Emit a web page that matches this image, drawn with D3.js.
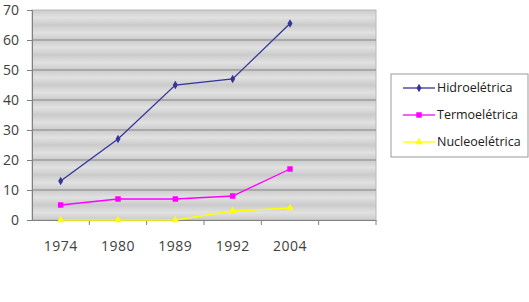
<!DOCTYPE html>
<html>
<head>
<meta charset="utf-8">
<script src="https://cdn.jsdelivr.net/npm/d3@7"></script>
<style>
  body { margin: 0; background: #fff; }
  text { font-family: "Open Sans", sans-serif; }
</style>
</head>
<body>
<div id="container"></div>
<script>
/* DATA */
const years = ["1974", "1980", "1989", "1992", "2004"];
const hidro = [13, 27, 45, 47, 65.5];
const termo = [5, 7, 7, 8, 17];
const nucleo = [0, 0, 0, 3, 4];
const yTicks = [0, 10, 20, 30, 40, 50, 60, 70];
const seriesNames = ["Hidroelétrica", "Termoelétrica", "Nucleoelétrica"];

const width = 529, height = 302;
const margin = { top: 10, left: 32, right: 153, bottom: 82 };

const svg = d3.select("#container").append("svg")
  .attr("width", width)
  .attr("height", height);

// x uses 6 slots, last one empty (like the original)
const xScale = d3.scaleBand()
  .domain(years.concat([""]))
  .range([margin.left, width - margin.right]);

const yScale = d3.scaleLinear()
  .domain([0, 70])
  .range([height - margin.bottom, margin.top]);

/* stripe background */
const defs = svg.append("defs");
const grad = defs.append("linearGradient")
  .attr("id", "stripe").attr("x1", 0).attr("y1", 0).attr("x2", 0).attr("y2", 1);
grad.append("stop").attr("offset", "0%").attr("stop-color", "#cbcbcb");
grad.append("stop").attr("offset", "50%").attr("stop-color", "#e1e1e1");
grad.append("stop").attr("offset", "100%").attr("stop-color", "#cbcbcb");
const pat = defs.append("pattern")
  .attr("id", "bg").attr("patternUnits", "userSpaceOnUse")
  .attr("width", 10).attr("height", 15).attr("y", margin.top);
pat.append("rect").attr("width", 10).attr("height", 15).attr("fill", "url(#stripe)");

const x0 = margin.left, x1 = width - margin.right;
svg.append("rect")
  .attr("x", x0).attr("y", yScale(70))
  .attr("width", x1 - x0).attr("height", yScale(0) - yScale(70))
  .attr("fill", "url(#bg)")
  .attr("stroke", "#b8b8b8");

// gridlines
svg.append("g")
  .selectAll("line")
  .data(yTicks.filter(d => d > 0 && d < 70))
  .join("line")
  .attr("x1", x0).attr("x2", x1)
  .attr("y1", d => yScale(d)).attr("y2", d => yScale(d))
  .attr("stroke", "#858585");

// axes
const yAxis = d3.axisLeft(yScale).tickValues(yTicks).tickSize(5).tickPadding(8);
const gy = svg.append("g").attr("transform", `translate(${x0},0)`).call(yAxis);
gy.select(".domain").attr("stroke", "#808080");
gy.selectAll(".tick line").attr("stroke", "#808080");
gy.selectAll("text").attr("fill", "#404040").style("font-size", "14px");

const xAxis = d3.axisBottom(xScale).tickSize(0).tickPadding(21);
const gx = svg.append("g").attr("transform", `translate(0,${yScale(0)})`).call(xAxis);
gx.select(".domain").attr("stroke", "#808080");
gx.selectAll("text").attr("fill", "#404040").style("font-size", "14px").style("letter-spacing", "0.5px");
// category boundary ticks
gx.selectAll(".sep")
  .data(xScale.domain())
  .join("line")
  .attr("class", "sep")
  .attr("x1", d => xScale(d) + xScale.bandwidth())
  .attr("x2", d => xScale(d) + xScale.bandwidth())
  .attr("y1", 0).attr("y2", 5)
  .attr("stroke", "#808080");

const cx = d => xScale(d) + xScale.bandwidth() / 2;

const series = [
  { name: seriesNames[0], values: hidro, color: "#35359a", fill: "#35359a", symbol: d3.symbolDiamond, size: 22 },
  { name: seriesNames[1], values: termo, color: "#ff00ff", fill: "#ff00ff", symbol: d3.symbolSquare, size: 30 },
  { name: seriesNames[2], values: nucleo, color: "#ffff00", fill: "#ffff00", symbol: d3.symbolTriangle, size: 24 }
];

const line = d3.line().x((d, i) => cx(years[i])).y(d => yScale(d));

series.slice().reverse().forEach(s => {
  svg.append("path")
    .datum(s.values)
    .attr("d", line)
    .attr("fill", "none")
    .attr("stroke", s.color)
    .attr("stroke-width", 1.3);
  svg.append("g")
    .selectAll("path")
    .data(s.values)
    .join("path")
    .attr("transform", (d, i) => `translate(${cx(years[i])},${yScale(d)})`)
    .attr("d", d3.symbol().type(s.symbol).size(s.size))
    .attr("fill", s.fill);
});

// legend
const lg = svg.append("g").attr("transform", "translate(391,74)");
lg.append("rect")
  .attr("width", 137).attr("height", 83)
  .attr("fill", "#fff").attr("stroke", "#9a9a9a");
series.forEach((s, i) => {
  const y = 14 + i * 27;
  lg.append("line").attr("x1", 12).attr("x2", 44).attr("y1", y).attr("y2", y)
    .attr("stroke", s.color).attr("stroke-width", 1.3);
  lg.append("path").attr("transform", `translate(28,${y})`)
    .attr("d", d3.symbol().type(s.symbol).size(s.size)).attr("fill", s.fill);
  lg.append("text").attr("x", 46).attr("y", y).attr("dy", "0.35em")
    .attr("fill", "#202020").style("font-size", "12.5px").text(s.name);
});
</script>
</body>
</html>
